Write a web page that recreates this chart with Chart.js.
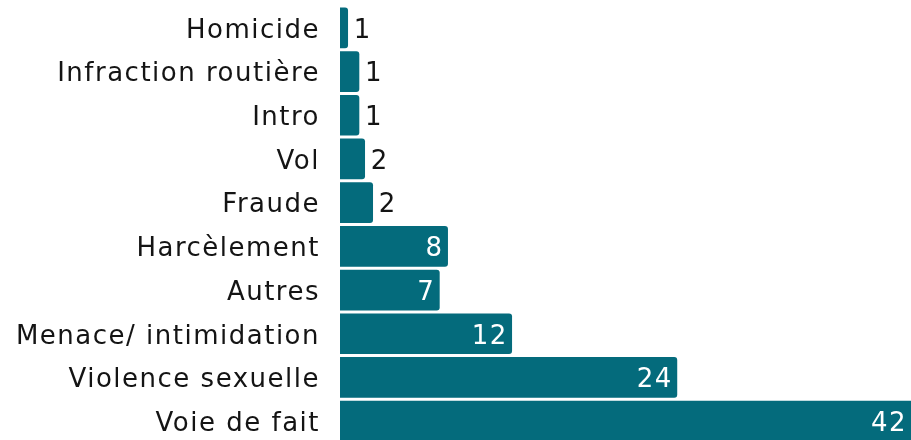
<!DOCTYPE html>
<html>
<head>
<meta charset="utf-8">
<script src="https://cdn.jsdelivr.net/npm/chart.js@4"></script>
<style>
  html, body { margin: 0; padding: 0; background: #fff; overflow: hidden; }
  canvas { display: block; }
</style>
</head>
<body>
<canvas id="chart" width="911" height="443"></canvas>
<script>
const categories = [
  "Homicide",
  "Infraction routière",
  "Intro",
  "Vol",
  "Fraude",
  "Harcèlement",
  "Autres",
  "Menace/ intimidation",
  "Violence sexuelle",
  "Voie de fait",
];
const values = [0.54, 1.33, 1.33, 1.73, 2.29, 7.54, 6.96, 12.03, 23.6, 42];
const xMax = 40;

const barColor = "#046b7c";
const textColor = "#141414";
const fontFamily = "'DejaVu Sans', sans-serif";
const spacing = "1.5px";

// espacement des lettres sur tout le canvas
const spacingPlugin = {
  id: "spacing",
  beforeDraw(chart) {
    chart.ctx.letterSpacing = spacing;
  },
};

// étiquettes de valeurs : dans la barre si grande, sinon à droite
const valueLabels = {
  id: "valueLabels",
  afterDatasetsDraw(chart) {
    const ctx = chart.ctx;
    const area = chart.chartArea;
    const meta = chart.getDatasetMeta(0);
    ctx.save();
    ctx.letterSpacing = spacing;
    ctx.font = "26px " + fontFamily;
    ctx.textBaseline = "middle";
    meta.data.forEach((bar, i) => {
      const v = values[i];
      const txt = String(Math.round(v));
      const end = Math.min(bar.x, area.right);
      if (v >= 5) {
        ctx.fillStyle = "#ffffff";
        ctx.textAlign = "right";
        ctx.fillText(txt, end - 4, bar.y + 3);
      } else {
        ctx.fillStyle = textColor;
        ctx.textAlign = "left";
        ctx.fillText(txt, end + 6, bar.y + 3);
      }
    });
    ctx.restore();
  },
};

const ctx = document.getElementById("chart").getContext("2d");
const chart = new Chart(ctx, {
  type: "bar",
  data: {
    labels: categories,
    datasets: [
      {
        data: values,
        backgroundColor: barColor,
        borderRadius: 3,
        borderSkipped: "start",
        barThickness: 40,
      },
    ],
  },
  options: {
    indexAxis: "y",
    responsive: false,
    animation: false,
    layout: { padding: { top: 6, right: 0, bottom: 0, left: 0 } },
    plugins: {
      legend: { display: false },
      tooltip: { enabled: false },
    },
    scales: {
      x: {
        display: false,
        min: 0,
        max: xMax,
      },
      y: {
        grid: { display: false },
        border: { display: false },
        afterFit(scale) {
          scale.width = 340;
          scale.paddingTop = 0;
          scale.paddingBottom = 0;
        },
        ticks: {
          padding: 12,
          labelOffset: 3,
          color: textColor,
          font: { family: fontFamily, size: 26 },
        },
      },
    },
  },
  plugins: [spacingPlugin, valueLabels],
});
</script>
</body>
</html>
